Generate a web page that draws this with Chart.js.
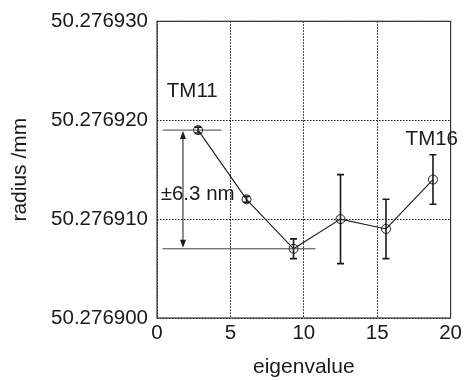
<!DOCTYPE html>
<html>
<head>
<meta charset="utf-8">
<script src="https://cdn.jsdelivr.net/npm/chart.js@4/dist/chart.umd.min.js"></script>
<style>
  html, body { margin: 0; padding: 0; background: #fff; }
  #wrap { width: 465px; height: 380px; }
</style>
</head>
<body>
<div id="wrap"><canvas id="c" width="465" height="380"></canvas></div>
<script>
// Eigenvalue of each mode and the measured radius (mm) with its uncertainty
const eigenvalues = [2.8, 6.1, 9.3, 12.5, 15.6, 18.8];
const radius = [50.276919, 50.276912, 50.276907, 50.276910, 50.276909, 50.276914];
const radiusErr = [0.0000003, 0.0000003, 0.0000010, 0.0000045, 0.0000030, 0.0000025];

const xTicks = [0, 5, 10, 15, 20];
const yTicks = [50.276900, 50.276910, 50.276920, 50.276930];

// Annotation: spread between TM11 and the minimum
const spreadTop = 50.276919;
const spreadBottom = 50.276907;
const spreadLabel = '±6.3 nm';
const modeLabels = [
  { text: 'TM11', x: 2.4, y: 50.2769229 },
  { text: 'TM16', x: 18.72, y: 50.2769181 }
];

const FONT = '"Liberation Sans", Arial, Helvetica, sans-serif';
const INK = '#1a1a1a';

const pts = eigenvalues.map((x, i) => ({ x, y: radius[i] }));

// Vertical error bars with caps, drawn through the chart scales
const errorBars = {
  id: 'errorBars',
  afterDatasetsDraw(chart) {
    const { ctx, scales: { x, y } } = chart;
    ctx.save();
    ctx.strokeStyle = INK;
    ctx.lineWidth = 1.6;
    eigenvalues.forEach((ev, i) => {
      const px = x.getPixelForValue(ev);
      const y1 = y.getPixelForValue(radius[i] + radiusErr[i]);
      const y2 = y.getPixelForValue(radius[i] - radiusErr[i]);
      ctx.beginPath();
      ctx.moveTo(px, y1); ctx.lineTo(px, y2);
      ctx.moveTo(px - 3.5, y1); ctx.lineTo(px + 3.5, y1);
      ctx.moveTo(px - 3.5, y2); ctx.lineTo(px + 3.5, y2);
      ctx.stroke();
    });
    ctx.restore();
  }
};

// Frame, reference lines, double arrow and labels
const annotations = {
  id: 'annotations',
  afterDatasetsDraw(chart) {
    const { ctx, chartArea: a, scales: { x, y } } = chart;
    ctx.save();
    // frame
    ctx.strokeStyle = '#333';
    ctx.lineWidth = 1.2;
    ctx.strokeRect(a.left, a.top, a.right - a.left, a.bottom - a.top);

    // horizontal reference lines
    ctx.strokeStyle = '#444';
    ctx.lineWidth = 1;
    const yt = y.getPixelForValue(spreadTop);
    const yb = y.getPixelForValue(spreadBottom);
    ctx.beginPath();
    ctx.moveTo(x.getPixelForValue(0.4), yt); ctx.lineTo(x.getPixelForValue(4.4), yt);
    ctx.moveTo(x.getPixelForValue(0.37), yb); ctx.lineTo(x.getPixelForValue(10.8), yb);
    ctx.stroke();

    // double-headed arrow
    const ax = x.getPixelForValue(1.77);
    ctx.strokeStyle = INK;
    ctx.fillStyle = INK;
    ctx.beginPath();
    ctx.moveTo(ax, yt + 6); ctx.lineTo(ax, yb - 6);
    ctx.stroke();
    ctx.beginPath();
    ctx.moveTo(ax, yt + 1); ctx.lineTo(ax - 3, yt + 9); ctx.lineTo(ax + 3, yt + 9); ctx.closePath();
    ctx.moveTo(ax, yb - 1); ctx.lineTo(ax - 3, yb - 9); ctx.lineTo(ax + 3, yb - 9); ctx.closePath();
    ctx.fill();

    // text labels
    ctx.font = '20.5px ' + FONT;
    ctx.textBaseline = 'middle';
    ctx.textAlign = 'center';
    ctx.fillText(spreadLabel, x.getPixelForValue(2.77), y.getPixelForValue(50.2769125));
    modeLabels.forEach(m => {
      ctx.fillText(m.text, x.getPixelForValue(m.x), y.getPixelForValue(m.y));
    });
    ctx.restore();
  }
};

new Chart(document.getElementById('c'), {
  type: 'scatter',
  data: {
    datasets: [{
      data: pts,
      showLine: true,
      borderColor: INK,
      borderWidth: 1.1,
      pointStyle: 'circle',
      pointRadius: 4.5,
      pointBorderWidth: 1,
      pointBackgroundColor: 'rgba(0,0,0,0)',
      pointBorderColor: INK,
      clip: false
    }]
  },
  options: {
    responsive: false,
    animation: false,
    devicePixelRatio: 1,
    layout: { padding: { left: 0, right: 14, top: 18, bottom: 0 } },
    plugins: { legend: { display: false }, tooltip: { enabled: false } },
    scales: {
      x: {
        type: 'linear',
        min: 0, max: 20,
        afterBuildTicks: s => { s.ticks = xTicks.map(v => ({ value: v })); },
        afterFit: s => { s.height = 62; },
        grid: { color: '#111', lineWidth: 1, drawTicks: false },
        border: { display: false, dash: [1.5, 1.5] },
        ticks: { color: INK, font: { family: FONT, size: 20.5 }, padding: 3, maxRotation: 0 },
        title: { display: true, text: 'eigenvalue', color: INK, font: { family: FONT, size: 21 }, padding: { top: 0, bottom: 0 } }
      },
      y: {
        type: 'linear',
        min: 50.2769, max: 50.27693,
        afterBuildTicks: s => { s.ticks = yTicks.map(v => ({ value: v })); },
        afterFit: s => { s.width = 157; },
        grid: { color: '#111', lineWidth: 1, drawTicks: false },
        border: { display: false, dash: [1.5, 1.5] },
        ticks: { color: INK, font: { family: FONT, size: 20.5 }, padding: 9, callback: v => v.toFixed(6) },
        title: { display: true, text: 'radius /mm', color: INK, font: { family: FONT, size: 21 }, padding: { top: 8, bottom: 0 } }
      }
    }
  },
  plugins: [errorBars, annotations]
});
</script>
</body>
</html>
